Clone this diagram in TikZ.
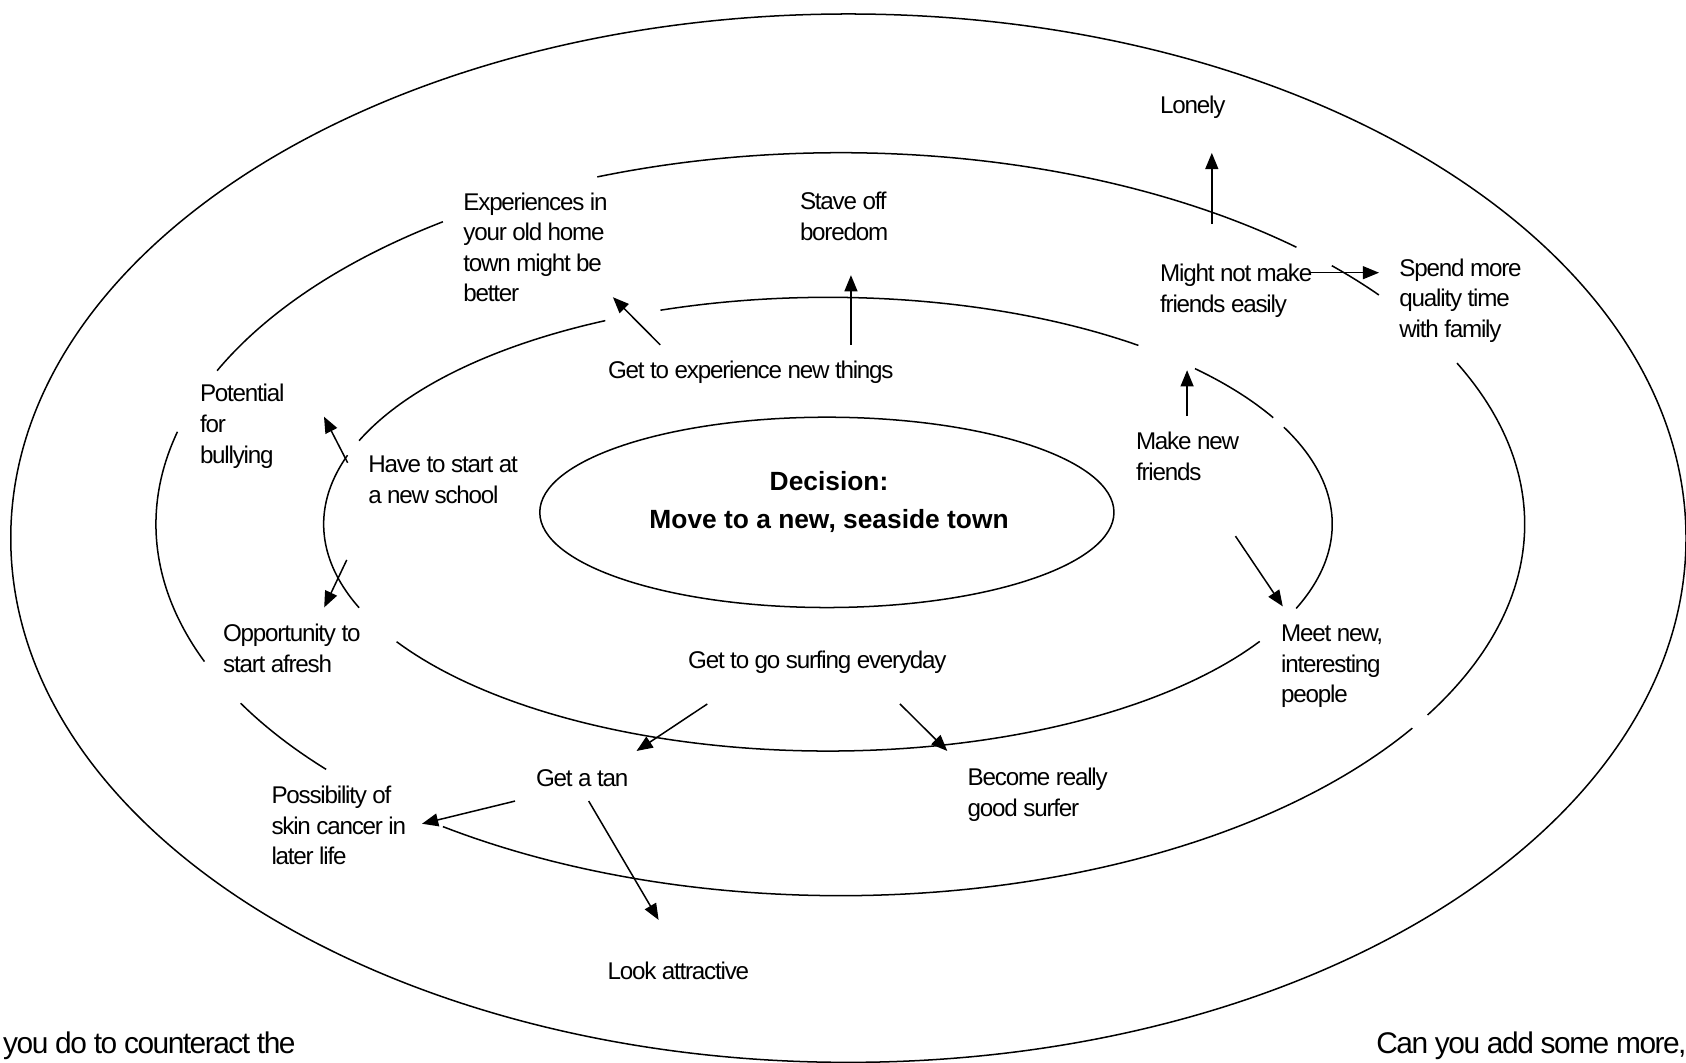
\documentclass[tikz,border=0pt]{standalone}
\usepackage{fontspec}
\setmainfont{Liberation Sans}[LetterSpace=-5]
\newfontfamily\decfont{Liberation Sans}
\usetikzlibrary{arrows.meta}
\newcommand\lblfont{\fontsize{22.5}{28.5}\selectfont}
\newcommand\bigfont{\fontsize{27.8}{32}\selectfont}
\newcommand\decisionfont{\decfont\bfseries\fontsize{24.5}{35}\selectfont}
\newcommand\tstrut{\rule{0pt}{18pt}}
\newcommand\segarc[6]{\draw[ring] plot[domain=#5:#6,samples=90,variable=\t] ({#1+#3*cos(\t)},{#2-#4*sin(\t)});}
\begin{document}
\begin{tikzpicture}[x=1pt,y=-1pt,
  ring/.style={line width=1.4pt},
  arr/.style={line width=1.4pt,-{Triangle[length=15pt,width=12pt]}},
  lbl/.style={inner sep=0pt,outer sep=0pt,anchor=north west,align=left,font=\lblfont,execute at begin node=\tstrut},
  biglbl/.style={inner sep=0pt,outer sep=0pt,anchor=base west,font=\bigfont},
]
\useasboundingbox[fill=white] (0,0) rectangle (1568,988);

% outer ring
\draw[ring] (789,500.5) ellipse [x radius=779pt, y radius=487.5pt];
% inner ellipse
\draw[ring] (769,476.5) ellipse [x radius=267pt, y radius=88.5pt];

% ring 2 (broken)
\segarc{781.5}{487.5}{636.5}{345.5}{48.2}{110.8}
\segarc{781.5}{487.5}{636.5}{345.5}{125.5}{155.6}
\segarc{781.5}{487.5}{636.5}{345.5}{165.6}{201.7}
\segarc{781.5}{487.5}{636.5}{345.5}{208.8}{221.3}
\segarc{781.5}{487.5}{636.5}{345.5}{234.5}{326.7}
\segarc{781.5}{487.5}{636.5}{345.5}{-30.9}{25.7}
\segarc{781.5}{487.5}{636.5}{345.5}{38.1}{44.1}

% ring 3 (broken)
\segarc{770}{487.5}{469}{211}{116.2}{158.4}
\segarc{770}{487.5}{469}{211}{162.3}{201.6}
\segarc{770}{487.5}{469}{211}{211.2}{328.9}
\segarc{770}{487.5}{469}{211}{-21.8}{25.3}
\segarc{770}{487.5}{469}{211}{28.0}{43.3}
\segarc{770}{487.5}{469}{211}{52.0}{109.4}

% labels
\node[inner sep=0pt,anchor=north,align=center,font=\decisionfont] (dec) at (771,438)
  {\tstrut Decision:\\Move to a new, seaside town};
\node[lbl] (lonely) at (1079,88) {Lonely};
\node[lbl] (exper) at (431,179) {Experiences in\\your old home\\town might be\\better};
\node[lbl] (stave) at (744,179) {Stave off\\boredom};
\node[lbl] (might) at (1079,245.5) {Might not make\\friends easily};
\node[lbl] (spend) at (1301.5,240.5) {Spend more\\quality time\\with family};
\node[lbl] (potential) at (186,357.3) {Potential\\for\\bullying};
\node[lbl] (getexp) at (565.5,334) {Get to experience new things};
\node[lbl] (have) at (342.5,424) {Have to start at\\a new school};
\node[lbl] (makenew) at (1056.5,402) {Make new\\friends};
\node[lbl] (opp) at (207.5,580.5) {Opportunity to\\start afresh};
\node[lbl] (surf) at (640,603.5) {Get to go surfing everyday};
\node[lbl] (meet) at (1191.5,581) {Meet new,\\interesting\\people};
\node[lbl] (tan) at (498.5,713.5) {Get a tan};
\node[lbl] (become) at (900,714.5) {Become really\\good surfer};
\node[lbl] (poss) at (252.5,731) {Possibility of\\skin cancer in\\later life};
\node[lbl] (look) at (565,892.5) {Look attractive};
\node[biglbl] (bl) at (3,980) {you do to counteract the};
\node[biglbl] (br) at (1280,980) {Can you add some more,};

% arrow end points
\coordinate (a1s) at (1127,208.5);   \coordinate (a1e) at (1127,142.2);
\coordinate (a2s) at (1217,253.6);   \coordinate (a2e) at (1282.5,253.6);
\coordinate (a3s) at (614,320.7);    \coordinate (a3e) at (570,276.4);
\coordinate (a4s) at (791.4,320.7);  \coordinate (a4e) at (791.4,255.9);
\coordinate (a5s) at (323.3,430.3);  \coordinate (a5e) at (301.3,387.5);
\coordinate (a6s) at (322.5,520.7);  \coordinate (a6e) at (301.5,564.9);
\coordinate (a7s) at (1104,387);     \coordinate (a7e) at (1104,344.3);
\coordinate (a8s) at (1149,498.6);   \coordinate (a8e) at (1193,564);
\coordinate (a9s) at (657.8,654.7);  \coordinate (a9e) at (592,698.4);
\coordinate (a10s) at (837,654.7);   \coordinate (a10e) at (881,698.4);
\coordinate (a11s) at (479,745);     \coordinate (a11e) at (392.5,766.1);
\coordinate (a12s) at (547.5,745);   \coordinate (a12e) at (612.5,855.5);

\draw[arr] (a1s) -- (a1e);
\draw[arr] (a2s) -- (a2e);
\draw[arr] (a3s) -- (a3e);
\draw[arr] (a4s) -- (a4e);
\draw[arr] (a5s) -- (a5e);
\draw[arr] (a6s) -- (a6e);
\draw[arr] (a7s) -- (a7e);
\draw[arr] (a8s) -- (a8e);
\draw[arr] (a9s) -- (a9e);
\draw[arr] (a10s) -- (a10e);
\draw[arr] (a11s) -- (a11e);
\draw[arr] (a12s) -- (a12e);
\end{tikzpicture}
\end{document}
